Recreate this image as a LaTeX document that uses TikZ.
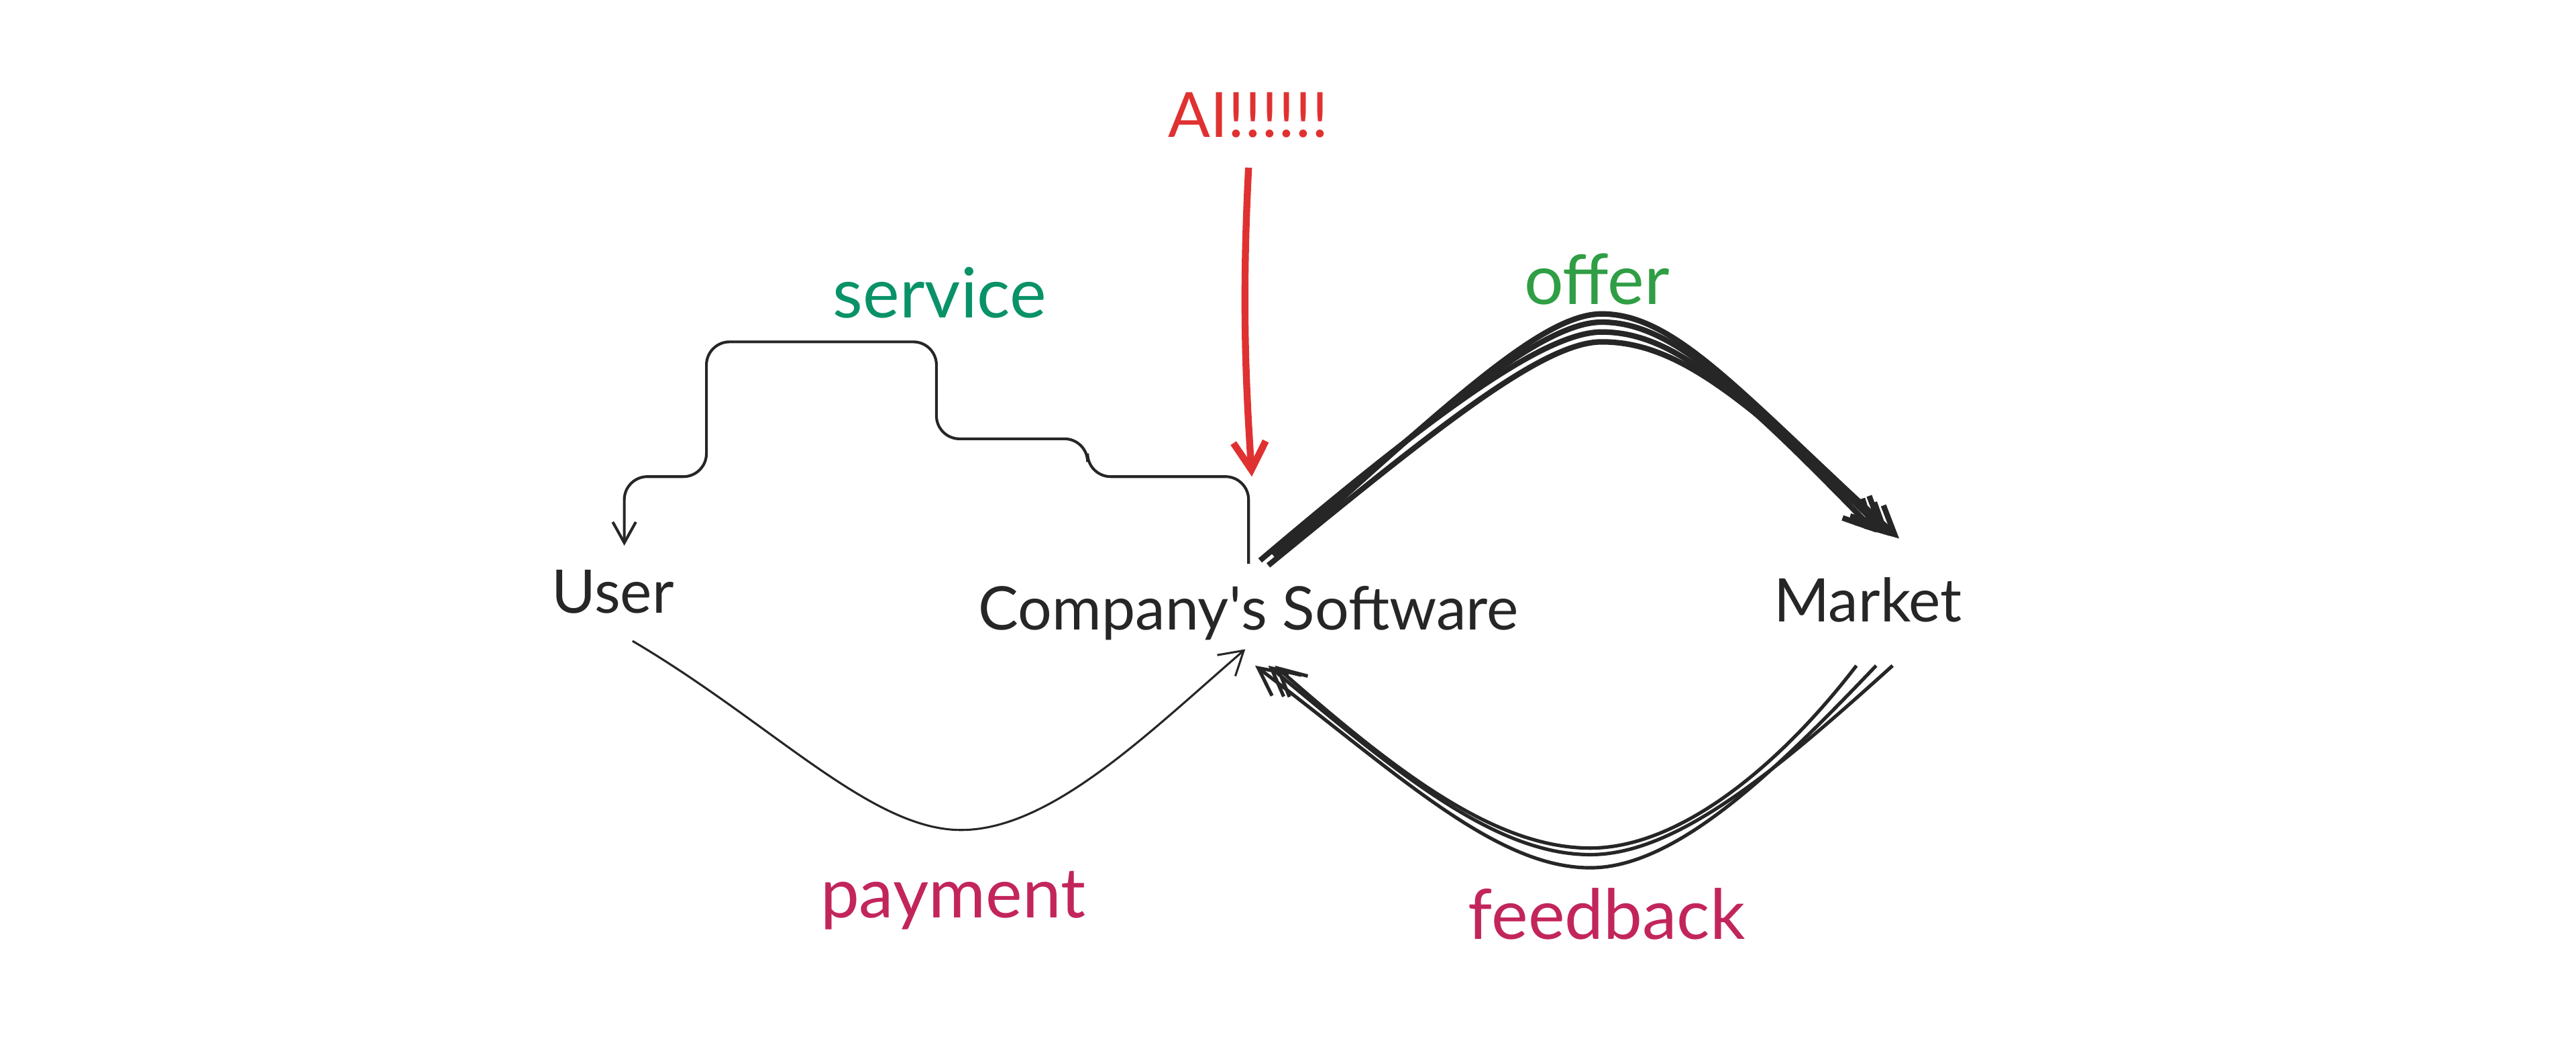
\documentclass[tikz,border=0pt]{standalone}
\usepackage{fontspec}
\setmainfont{Lato}
\usetikzlibrary{arrows.meta}
\begin{document}
\begin{tikzpicture}[x=0.025cm,y=-0.025cm,
  lbl/.style={font=\fontsize{26}{30}\selectfont, text=black!85},
  big/.style={font=\fontsize{30}{34}\selectfont},
  ln/.style={line width=1.2pt, black!85},
  tip/.style={-{Straight Barb[length=9pt,width=10pt]}}]
\useasboundingbox (0,0) rectangle (1568,643);
\definecolor{svc}{HTML}{099268}
\definecolor{ofr}{HTML}{2F9E44}
\definecolor{pay}{HTML}{C2255C}
\definecolor{ai}{HTML}{E03131}
\node[lbl] (user) at (373,360) {User};
\node[lbl] (soft) at (760,373) {Company\textquotesingle s Software};
\node[lbl] (mkt) at (1137,365) {Market};
\node[font=\fontsize{27}{32}\selectfont,text=ai] (ai) at (760,70) {AI!!!!!!};
\node[big,text=svc] (svc) at (572,178) {service};
\node[big,text=ofr] (ofr) at (972,170) {offer};
\node[big,text=pay] (pay) at (580,548) {payment};
\node[big,text=pay] (fb) at (978,556) {feedback};
\coordinate (sS) at (760,343);
\coordinate (uT) at (380,332);
% service
\draw[ln,tip,rounded corners=10] (sS) -- (760,290) -- (662,290) -- (662,267) -- (570,267) -- (570,208) -- (430,208) -- (430,290) -- (380,290) -- (uT);
% AI
\draw[ai,line width=3pt,-{Straight Barb[length=12pt,width=14pt]}] (760,102) .. controls (756,180) and (758,230) .. (762,290);
% offer
\foreach \d/\e in {0/6,-8/12,6/1,-3/18}{
\draw[line width=2.4pt,black!85,-{Straight Barb[length=12pt,width=12pt]}] (775+\d,335+\e/2) .. controls (880+\d,240+\e) and (940,190+\e) .. (975,190+\e) .. controls (1020,190+\e) and (1060,240) .. (1150+\d,328-\e/3);
}
% payment
\draw[line width=0.9pt,black!85,-{Straight Barb[length=10pt,width=12pt]}] (385,390) .. controls (470,440) and (530,505) .. (585,505) .. controls (640,505) and (700,445) .. (758,395);
% feedback
\foreach \d/\e in {0/0,-22/-4,-10/8}{
\draw[line width=1.5pt,black!85,-{Straight Barb[length=12pt,width=12pt]}] (1152+\d,405) .. controls (1080,470) and (1020,520+\e) .. (968,520+\e) .. controls (910,520+\e) and (850,470) .. (772-\e,405);
}
\end{tikzpicture}
\end{document}
